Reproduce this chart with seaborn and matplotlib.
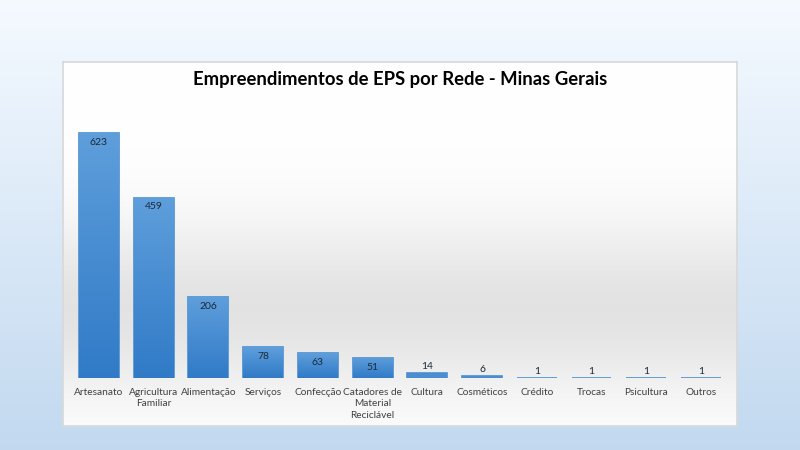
import numpy as np
import pandas as pd
import matplotlib
matplotlib.use("Agg")
import matplotlib.pyplot as plt
import seaborn as sns

# dados
categorias = ["Artesanato", "Agricultura\nFamiliar", "Alimentação", "Serviços",
              "Confecção", "Catadores de\nMaterial\nReciclável", "Cultura",
              "Cosméticos", "Crédito", "Trocas", "Psicultura", "Outros"]
valores = [623, 459, 206, 78, 63, 51, 14, 6, 1, 1, 1, 1]
titulo = "Empreendimentos de EPS por Rede - Minas Gerais"

df = pd.DataFrame({"rede": categorias, "qtd": valores})

sns.set_theme(style="white")
plt.rcParams['font.family'] = ['Lato', 'DejaVu Sans']

fig = plt.figure(figsize=(8, 4.5), dpi=100)

# fundo em degrade (branco -> azul claro)
bg = fig.add_axes([0, 0, 1, 1], zorder=-3)
grad = np.linspace(0, 1, 256).reshape(-1, 1)
top = np.array([0.96, 0.98, 1.0])
bot = np.array([0.76, 0.85, 0.94])
img = top + (bot - top) * grad[:, :, None]
bg.imshow(img, aspect="auto", extent=[0, 1, 0, 1], origin="upper")
bg.axis("off")

# painel branco do grafico
pn = fig.add_axes([63/800, 1 - 426/450, 674/800, 364/450], zorder=-2)
g2 = np.linspace(0, 1, 256)
shade = 1 - 0.11 * np.exp(-((g2 - 0.68) / 0.24) ** 2)
pimg = np.dstack([shade, shade, shade]).reshape(-1, 1, 3)
pn.imshow(pimg, aspect="auto", extent=[0, 1, 0, 1], origin="upper")
pn.set_xticks([]); pn.set_yticks([])
for s in pn.spines.values():
    s.set_color("#d9d9d9")

# eixo do grafico
ax = fig.add_axes([71.6/800, 72/450, 656.7/800, 275/450])
ax.patch.set_alpha(0)
sns.barplot(data=df, x="rede", y="qtd", color="#4a8dd0", width=0.73,
            ax=ax, saturation=1, edgecolor="#4a8dd0", linewidth=1.2)
ax.set_ylim(0, 700)
ax.set_xlim(-0.5, len(categorias) - 0.5)

# degrade nas barras
bgrad = np.linspace(0, 1, 100).reshape(-1, 1)
c_top = np.array([0.37, 0.62, 0.86])
c_bot = np.array([0.19, 0.48, 0.78])
bimg = c_top + (c_bot - c_top) * bgrad[:, :, None]
for p in ax.patches:
    x0, w, h = p.get_x(), p.get_width(), p.get_height()
    if h < 20:
        continue
    im = ax.imshow(bimg, aspect="auto", extent=[x0, x0 + w, 0, h],
                   origin="upper", zorder=p.get_zorder() + 0.1)
    im.set_clip_path(p)

# rotulos de valor
for i, v in enumerate(valores):
    if v >= 40:
        ax.text(i, v - 12, str(v), ha="center", va="top", fontsize=7.5,
                color="#1c2a3a", zorder=5)
    else:
        ax.text(i, v + 4, str(v), ha="center", va="bottom", fontsize=7.5,
                color="#1c2a3a", zorder=5)

ax.set_xlabel("")
ax.set_ylabel("")
ax.set_yticks([])
ax.tick_params(axis="x", length=0, pad=7, labelsize=7.3, colors="#404040")
for lb in ax.get_xticklabels():
    lb.set_linespacing(1.35)
for s in ax.spines.values():
    s.set_visible(False)

fig.text(0.5, 1 - 80/450, titulo, ha="center", va="center",
         fontsize=13.3, fontweight="bold", color="black")

fig.savefig("out.png", dpi=100)
